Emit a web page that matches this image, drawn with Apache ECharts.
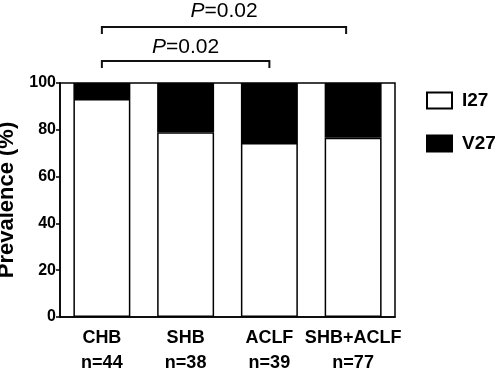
<!DOCTYPE html>
<html>
<head>
<meta charset="utf-8">
<script src="https://cdn.jsdelivr.net/npm/echarts@6/dist/echarts.min.js"></script>
<style>html,body{margin:0;padding:0;background:#fff}#c{width:500px;height:370px}</style>
</head>
<body>
<div id="c"></div>
<script>
const categories = ['CHB', 'SHB', 'ACLF', 'SHB+ACLF'];
const sampleSizes = ['n=44', 'n=38', 'n=39', 'n=77'];
const i27 = [93.2, 78.9, 74.4, 76.6];
const v27 = [6.8, 21.1, 25.6, 23.4];
const yTicks = [0, 20, 40, 60, 80, 100];
const comparisons = [
  { from: 'CHB', to: 'SHB+ACLF', p: '0.02' },
  { from: 'CHB', to: 'ACLF', p: '0.02' }
];

const FONT = '"Liberation Sans", Arial, Helvetica, sans-serif';
const chart = echarts.init(document.getElementById('c'), null, { renderer: 'canvas' });

chart.setOption({
  animation: false,
  backgroundColor: '#fff',
  textStyle: { fontFamily: FONT },
  grid: { left: 60, right: 105, top: 83, bottom: 53, containLabel: false, outerBoundsMode: 'none',
          show: true, borderColor: '#000', borderWidth: 1.5, backgroundColor: 'transparent' },
  legend: {
    orient: 'vertical', left: 421, top: 86,
    itemWidth: 25, itemHeight: 16, itemGap: 24,
    icon: 'rect',
    textStyle: { fontFamily: FONT, fontWeight: 'bold', fontSize: 19, color: '#000', padding: [0, 0, 0, 5] },
    data: ['I27', 'V27']
  },
  xAxis: {
    type: 'category', data: categories,
    axisLine: { show: true, lineStyle: { color: '#000', width: 1.5 } },
    axisTick: { show: false },
    axisLabel: {
      interval: 0,
      margin: 9,
      formatter: (v, i) => '{a|' + v + '}\n{b|' + sampleSizes[i] + '}',
      rich: {
        a: { fontFamily: FONT, fontWeight: 'bold', fontSize: 18, color: '#000', lineHeight: 25 },
        b: { fontFamily: FONT, fontWeight: 'bold', fontSize: 18, color: '#000', lineHeight: 25 }
      }
    }
  },
  yAxis: {
    type: 'value', min: yTicks[0], max: yTicks[yTicks.length - 1], interval: 20,
    name: 'Prevalence (%)', nameLocation: 'middle', nameGap: 36,
    nameTextStyle: { fontFamily: FONT, fontWeight: 'bold', fontSize: 22, color: '#000' },
    axisLine: { show: true, lineStyle: { color: '#000', width: 1.5 } },
    axisTick: { show: true, length: 4, lineStyle: { color: '#000', width: 1.5 } },
    axisLabel: { margin: 4, fontFamily: FONT, fontWeight: 'bold', fontSize: 16, color: '#000' },
    splitLine: { show: false }
  },
  series: [
    { name: 'I27', type: 'bar', stack: 's', data: i27, barWidth: '68%',
      itemStyle: { color: '#fff', borderColor: '#000', borderWidth: 1.5 } },
    { name: 'V27', type: 'bar', stack: 's', data: v27, barWidth: '68%',
      itemStyle: { color: '#000', borderColor: '#000', borderWidth: 1.5 } }
  ]
});

// significance brackets positioned from the category axis
const bracketY = [27, 61];
const textY = [11, 47];
const elements = [];
comparisons.forEach((c, k) => {
  const x0 = chart.convertToPixel({ xAxisIndex: 0 }, c.from);
  const x1 = chart.convertToPixel({ xAxisIndex: 0 }, c.to) - (k === 0 ? 7 : 0);
  const y = bracketY[k];
  elements.push({
    type: 'polyline',
    shape: { points: [[x0, y + 7], [x0, y], [x1, y], [x1, y + 7]] },
    style: { stroke: '#111', lineWidth: 2, fill: null }
  });
  elements.push({
    type: 'text', x: (x0 + x1) / 2, y: textY[k],
    style: {
      text: '{i|P}{r|=' + c.p + '}',
      align: 'center', verticalAlign: 'middle',
      rich: {
        i: { fontFamily: FONT, fontStyle: 'italic', fontSize: 21, fill: '#000' },
        r: { fontFamily: FONT, fontSize: 21, fill: '#000' }
      }
    }
  });
});
chart.setOption({ graphic: { elements } });
</script>
</body>
</html>
